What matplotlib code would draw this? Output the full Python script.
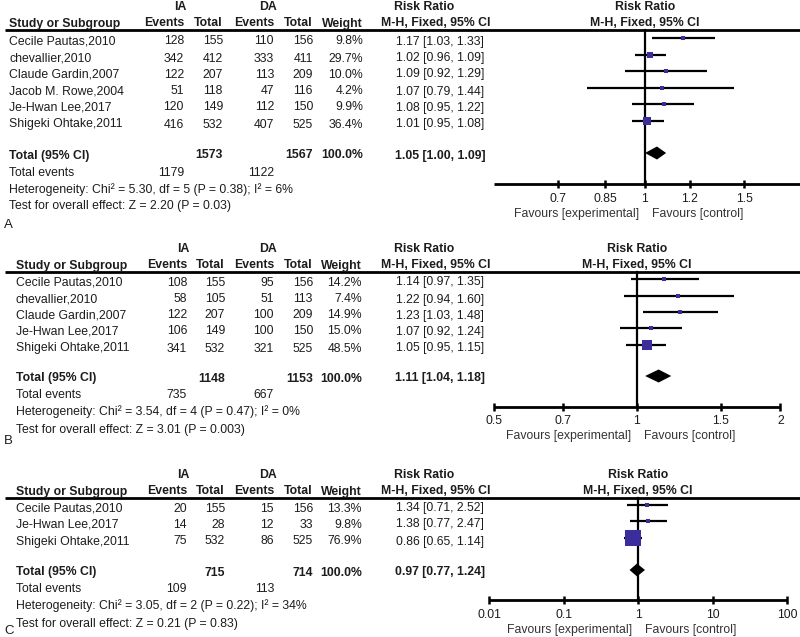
import numpy as np
import matplotlib
matplotlib.use("Agg")
import matplotlib.pyplot as plt

plt.rcParams['font.family'] = ['Liberation Sans', 'DejaVu Sans']

# ---------------- data ----------------
A_studies = ["Cecile Pautas,2010", "chevallier,2010", "Claude Gardin,2007",
             "Jacob M. Rowe,2004", "Je-Hwan Lee,2017", "Shigeki Ohtake,2011"]
A_ia_events = [128, 342, 122, 51, 120, 416]
A_ia_total = [155, 412, 207, 118, 149, 532]
A_da_events = [110, 333, 113, 47, 112, 407]
A_da_total = [156, 411, 209, 116, 150, 525]
A_weight = [9.8, 29.7, 10.0, 4.2, 9.9, 36.4]
A_rr = [1.17, 1.02, 1.09, 1.07, 1.08, 1.01]
A_lo = [1.03, 0.96, 0.92, 0.79, 0.95, 0.95]
A_hi = [1.33, 1.09, 1.29, 1.44, 1.22, 1.08]
A_tot = [1573, 1567]
A_tot_events = [1179, 1122]
A_pooled = [1.05, 1.00, 1.09]
A_het = "Heterogeneity: Chi\u00b2 = 5.30, df = 5 (P = 0.38); I\u00b2 = 6%"
A_test = "Test for overall effect: Z = 2.20 (P = 0.03)"
A_ticks = [0.7, 0.85, 1, 1.2, 1.5]
A_ticklabels = ["0.7", "0.85", "1", "1.2", "1.5"]
A_axis = [0.54, 1.9]

B_studies = ["Cecile Pautas,2010", "chevallier,2010", "Claude Gardin,2007",
             "Je-Hwan Lee,2017", "Shigeki Ohtake,2011"]
B_ia_events = [108, 58, 122, 106, 341]
B_ia_total = [155, 105, 207, 149, 532]
B_da_events = [95, 51, 100, 100, 321]
B_da_total = [156, 113, 209, 150, 525]
B_weight = [14.2, 7.4, 14.9, 15.0, 48.5]
B_rr = [1.14, 1.22, 1.23, 1.07, 1.05]
B_lo = [0.97, 0.94, 1.03, 0.92, 0.95]
B_hi = [1.35, 1.60, 1.48, 1.24, 1.15]
B_tot = [1148, 1153]
B_tot_events = [735, 667]
B_pooled = [1.11, 1.04, 1.18]
B_het = "Heterogeneity: Chi\u00b2 = 3.54, df = 4 (P = 0.47); I\u00b2 = 0%"
B_test = "Test for overall effect: Z = 3.01 (P = 0.003)"
B_ticks = [0.5, 0.7, 1, 1.5, 2]
B_ticklabels = ["0.5", "0.7", "1", "1.5", "2"]
B_axis = [0.5, 2]

C_studies = ["Cecile Pautas,2010", "Je-Hwan Lee,2017", "Shigeki Ohtake,2011"]
C_ia_events = [20, 14, 75]
C_ia_total = [155, 28, 532]
C_da_events = [15, 12, 86]
C_da_total = [156, 33, 525]
C_weight = [13.3, 9.8, 76.9]
C_rr = [1.34, 1.38, 0.86]
C_lo = [0.71, 0.77, 0.65]
C_hi = [2.52, 2.47, 1.14]
C_tot = [715, 714]
C_tot_events = [109, 113]
C_pooled = [0.97, 0.77, 1.24]
C_het = "Heterogeneity: Chi\u00b2 = 3.05, df = 2 (P = 0.22); I\u00b2 = 34%"
C_test = "Test for overall effect: Z = 0.21 (P = 0.83)"
C_ticks = [0.01, 0.1, 1, 10, 100]
C_ticklabels = ["0.01", "0.1", "1", "10", "100"]
C_axis = [0.01, 100]

# ---------------- layout (pixels) ----------------
W, H = 800, 637
fig = plt.figure(figsize=(W / 100, H / 100), dpi=100)
ax0 = fig.add_axes([0, 0, 1, 1])
ax0.set_xlim(0, W)
ax0.set_ylim(H, 0)
ax0.axis('off')

FS = 8.8
TXT = '#1c1c1c'
SQ = '#3b2e9c'
BL = 3.5  # baseline offset from visual row centre (px)

panels = [
    dict(label="A", studies=A_studies, iae=A_ia_events, iat=A_ia_total, dae=A_da_events,
         dat=A_da_total, w=A_weight, rr=A_rr, lo=A_lo, hi=A_hi, tot=A_tot, tev=A_tot_events,
         pooled=A_pooled, het=A_het, test=A_test, ticks=A_ticks, tl=A_ticklabels, axis=A_axis,
         top=7, rows=[41, 58, 74, 91, 107, 124], total_y=155, lab_y=224,
         axis_y=184, center=645, k=245.0, xcols=[9, 184, 223, 274, 313, 363, 440, 424]),
    dict(label="B", studies=B_studies, iae=B_ia_events, iat=B_ia_total, dae=B_da_events,
         dat=B_da_total, w=B_weight, rr=B_rr, lo=B_lo, hi=B_hi, tot=B_tot, tev=B_tot_events,
         pooled=B_pooled, het=B_het, test=B_test, ticks=B_ticks, tl=B_ticklabels, axis=B_axis,
         top=249, rows=[282, 299, 315, 331, 348], total_y=378, lab_y=440,
         axis_y=407, center=637, k=207.0, xcols=[16, 187, 225, 274, 313, 362, 440, 424]),
    dict(label="C", studies=C_studies, iae=C_ia_events, iat=C_ia_total, dae=C_da_events,
         dat=C_da_total, w=C_weight, rr=C_rr, lo=C_lo, hi=C_hi, tot=C_tot, tev=C_tot_events,
         pooled=C_pooled, het=C_het, test=C_test, ticks=C_ticks, tl=C_ticklabels, axis=C_axis,
         top=475, rows=[508, 524, 541], total_y=572, lab_y=630,
         axis_y=600, center=638, k=74.5 / np.log(10), xcols=[16, 187, 225, 274, 313, 362, 440, 424]),
]


def t(x, y, s, ha='left', bold=False, ax=None, color=TXT, fs=FS):
    (ax or ax0).text(x, y + BL, s, ha=ha, va='baseline', fontsize=fs, color=color,
                     fontweight='bold' if bold else 'normal')


for p in panels:
    xn, xe1, xt1, xe2, xt2, xw, xrr, xrrh = p['xcols']
    top = p['top']
    h2 = top + 16
    line_y = top + 23
    # headers
    t(xe1 - 4, top, "IA", ha='center', bold=True)
    t(xe2 - 6, top, "DA", ha='center', bold=True)
    t(xrrh, top, "Risk Ratio", ha='center', bold=True)
    t(xn, h2, "Study or Subgroup", bold=True)
    t(xe1, h2, "Events", ha='right', bold=True)
    t(xt1, h2, "Total", ha='right', bold=True)
    t(xe2, h2, "Events", ha='right', bold=True)
    t(xt2, h2, "Total", ha='right', bold=True)
    t(xw, h2, "Weight", ha='right', bold=True)
    t(436, h2, "M-H, Fixed, 95% CI", ha='center', bold=True)
    t(p['center'], top, "Risk Ratio", ha='center', bold=True)
    t(p['center'], h2, "M-H, Fixed, 95% CI", ha='center', bold=True)
    ax0.plot([5, 800], [line_y, line_y], color='black', lw=2.0, solid_capstyle='butt')

    # study rows
    for i, y in enumerate(p['rows']):
        t(xn, y, p['studies'][i])
        t(xe1, y, str(p['iae'][i]), ha='right')
        t(xt1, y, str(p['iat'][i]), ha='right')
        t(xe2, y, str(p['dae'][i]), ha='right')
        t(xt2, y, str(p['dat'][i]), ha='right')
        t(xw, y, f"{p['w'][i]:.1f}%", ha='right')
        t(xrr, y, f"{p['rr'][i]:.2f} [{p['lo'][i]:.2f}, {p['hi'][i]:.2f}]", ha='center')

    ty = p['total_y']
    t(xn, ty, "Total (95% CI)", bold=True)
    t(xt1, ty, str(p['tot'][0]), ha='right', bold=True)
    t(xt2, ty, str(p['tot'][1]), ha='right', bold=True)
    t(xw, ty, "100.0%", ha='right', bold=True)
    pr = p['pooled']
    t(xrr, ty, f"{pr[0]:.2f} [{pr[1]:.2f}, {pr[2]:.2f}]", ha='center', bold=True)
    t(xn, ty + 17, "Total events")
    t(xe1, ty + 17, str(p['tev'][0]), ha='right')
    t(xe2, ty + 17, str(p['tev'][1]), ha='right')
    t(xn, ty + 34, p['het'])
    t(xn, ty + 51, p['test'])
    t(4, p['lab_y'], p['label'], fs=9.5)

    # forest axes: log scale mapped onto the pixel grid
    ax = fig.add_axes([0, 0, 1, 1], facecolor='none')
    c, k = p['center'], p['k']
    ax.set_xscale('log')
    ax.set_xlim(np.exp((0 - c) / k), np.exp((W - c) / k))
    ax.set_ylim(H, 0)
    ax.axis('off')

    ay = p['axis_y']
    ax.plot([1, 1], [line_y, ay], color='black', lw=1.6, zorder=2)
    ax.plot(p['axis'], [ay, ay], color='black', lw=2.0, solid_capstyle='butt', zorder=2)
    ax.vlines(p['ticks'], ay - 4, ay + 4, color='black', lw=1.8, zorder=2)
    for tv, tl in zip(p['ticks'], p['tl']):
        t(tv, ay + 14, tl, ha='center', ax=ax)
    xfav = np.exp(-6 / k)
    xfav2 = np.exp(7 / k)
    t(xfav, ay + 29, "Favours [experimental]", ha='right', ax=ax, color='#333333')
    t(xfav2, ay + 29, "Favours [control]", ha='left', ax=ax, color='#333333')

    for i, y in enumerate(p['rows']):
        yy = y - 3
        ax.plot([p['lo'][i], p['hi'][i]], [yy, yy], color='black', lw=1.6,
                solid_capstyle='butt', zorder=3)
        side_px = max(4.0, 0.19 * p['w'][i] + 0.8)
        ax.plot([p['rr'][i]], [yy], marker='s', markersize=side_px * 0.72,
                color=SQ, markeredgewidth=0, linestyle='none', zorder=4)
    dy = ty - 2
    ax.fill([pr[1], pr[0], pr[2], pr[0]], [dy, dy - 6.5, dy, dy + 6.5],
            color='black', lw=0, zorder=4)

fig.savefig("out.png", dpi=100)
